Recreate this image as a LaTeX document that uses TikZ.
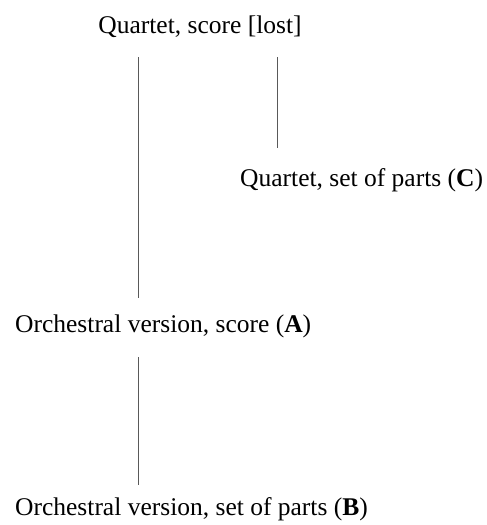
\documentclass[tikz,border=0pt]{standalone}
\usepackage{fontspec}
\setmainfont{Liberation Serif}
\begin{document}
\begin{tikzpicture}[x=1pt,y=-1pt,
  lbl/.style={inner sep=0pt,font=\fontsize{25.5}{30}\selectfont},
  link/.style={line width=0.6pt,draw=black!65}]
\useasboundingbox (0,0) rectangle (487,525);
\node[lbl,anchor=base] (qs) at (200,33) {Quartet, score [lost]};
\node[lbl,anchor=base west] (qc) at (240,186) {Quartet, set of parts (\textbf{C})};
\node[lbl,anchor=base west] (oa) at (15,332) {Orchestral version, score (\textbf{A})};
\node[lbl,anchor=base west] (ob) at (15,515) {Orchestral version, set of parts (\textbf{B})};
\coordinate (t1) at (138,57);
\coordinate (b1) at (138,298);
\coordinate (t2) at (277,57);
\coordinate (b2) at (277,148);
\coordinate (t3) at (138,357);
\coordinate (b3) at (138,485);
\draw[link] (t1) -- (b1);
\draw[link] (t2) -- (b2);
\draw[link] (t3) -- (b3);
\end{tikzpicture}
\end{document}
